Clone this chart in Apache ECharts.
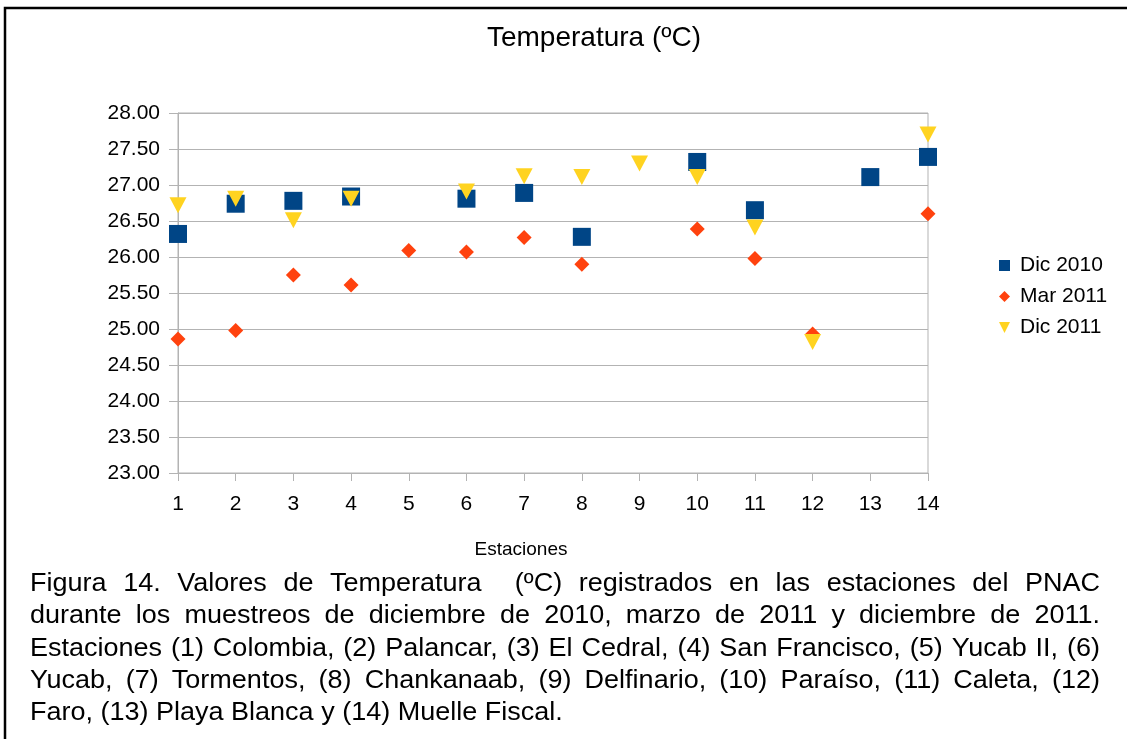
<!DOCTYPE html>
<html>
<head>
<meta charset="utf-8">
<script src="https://cdn.jsdelivr.net/npm/echarts@6/dist/echarts.min.js"></script>
<style>
  html, body { margin: 0; padding: 0; background: #ffffff; }
  #chart { width: 1127px; height: 739px; }
</style>
</head>
<body>
<div id="chart"></div>
<script>
// Stations 1..14 along the x axis
const stations = ['1', '2', '3', '4', '5', '6', '7', '8', '9', '10', '11', '12', '13', '14'];

// Temperature (ºC) per station for each sampling campaign; null = not sampled
const dic2010 = [26.32, 26.74, 26.78, 26.84, null, 26.81, 26.89, 26.28, null, 27.32, 26.65, null, 27.11, 27.39];
const mar2011 = [24.86, 24.98, 25.75, 25.61, 26.09, 26.07, 26.27, 25.90, null, 26.39, 25.98, 24.93, null, 26.60];
const dic2011 = [26.72, 26.81, 26.51, 26.81, null, 26.91, 27.12, 27.11, 27.30, 27.11, 26.41, 24.82, null, 27.70];

const seriesNames = ['Dic 2010', 'Mar 2011', 'Dic 2011'];

const chartTitle = 'Temperatura (ºC)';
const xAxisTitle = 'Estaciones';

const captionLines = [
  'Figura 14. Valores de Temperatura  (ºC) registrados en las estaciones del PNAC',
  'durante los muestreos de diciembre de 2010, marzo de 2011 y diciembre de 2011.',
  'Estaciones (1) Colombia, (2) Palancar, (3) El Cedral, (4) San Francisco, (5) Yucab II, (6)',
  'Yucab, (7) Tormentos, (8) Chankanaab, (9) Delfinario, (10) Paraíso, (11) Caleta, (12)',
  'Faro, (13) Playa Blanca y (14) Muelle Fiscal.'
];

const FONT = '"Liberation Sans", Arial, sans-serif';
const downTriangle = 'path://M0,0L10,0L5,10Z';

// Justified caption: each word placed as its own text element
function buildCaption() {
  const size = 25, sx = 1.08;
  const left = 30, right = 1100, top = 584, step = 32.4;
  const ctx = document.createElement('canvas').getContext('2d');
  ctx.font = size + 'px ' + FONT;
  const els = [];
  captionLines.forEach(function (line, i) {
    const y = top + i * step;
    const words = line.split(' ');
    const widths = words.map(function (w) { return ctx.measureText(w).width * sx; });
    const total = widths.reduce(function (a, b) { return a + b; }, 0);
    const last = i === captionLines.length - 1;
    const gap = last ? ctx.measureText(' ').width * sx : (right - left - total) / (words.length - 1);
    let x = left;
    words.forEach(function (w, k) {
      if (w.length) {
        els.push({
          type: 'text', x: x, y: y, scaleX: sx, silent: true,
          style: { text: w, fontSize: size, fontFamily: FONT, fill: '#000000',
                   textVerticalAlign: 'middle', verticalAlign: 'middle' }
        });
      }
      x += widths[k] + gap;
    });
  });
  return els;
}

const chart = echarts.init(document.getElementById('chart'), null, { renderer: 'canvas' });

const option = {
  backgroundColor: '#ffffff',
  animation: false,
  grid: {
    left: 178, right: 199, top: 113, bottom: 266,
    show: true, borderColor: '#b3b3b3', borderWidth: 1
  },
  legend: {
    orient: 'vertical',
    left: 994, top: 250,
    itemWidth: 11, itemHeight: 11, itemGap: 10,
    textStyle: { fontSize: 21, fontFamily: FONT, color: '#000000', lineHeight: 21, padding: [0, 0, 0, 5] },
    data: [
      { name: seriesNames[0], icon: 'rect' },
      { name: seriesNames[1], icon: 'diamond' },
      { name: seriesNames[2], icon: downTriangle }
    ]
  },
  xAxis: {
    type: 'category',
    data: stations,
    boundaryGap: false,
    axisLine: { show: true, lineStyle: { color: '#b3b3b3', width: 1 } },
    axisTick: { show: true, length: 8, alignWithLabel: true, lineStyle: { color: '#b3b3b3' } },
    splitLine: { show: false },
    axisLabel: { fontSize: 21, fontFamily: FONT, color: '#000000', margin: 21 }
  },
  yAxis: {
    type: 'value',
    min: 23, max: 28, interval: 0.5,
    axisLine: { show: true, lineStyle: { color: '#b3b3b3', width: 1 } },
    axisTick: { show: true, length: 9, lineStyle: { color: '#b3b3b3' } },
    splitLine: { show: true, lineStyle: { color: '#b3b3b3', width: 1 } },
    axisLabel: {
      fontSize: 21, fontFamily: FONT, color: '#000000', margin: 18,
      formatter: function (v) { return v.toFixed(2); }
    }
  },
  series: [
    { name: seriesNames[0], type: 'scatter', data: dic2010, symbol: 'rect', symbolSize: 18,
      itemStyle: { color: '#004586', opacity: 1 } },
    { name: seriesNames[1], type: 'scatter', data: mar2011, symbol: 'diamond', symbolSize: 15,
      itemStyle: { color: '#ff420e', opacity: 1 } },
    { name: seriesNames[2], type: 'scatter', data: dic2011, symbol: downTriangle, symbolSize: [17, 16],
      itemStyle: { color: '#ffd320', opacity: 1 } }
  ],
  graphic: [
    { type: 'polyline', silent: true,
      shape: { points: [[5, 739], [5, 8], [1127, 8]] },
      style: { stroke: '#000000', lineWidth: 2.5, fill: null } },
    { type: 'text', x: 594, y: 38, silent: true,
      style: { text: chartTitle, fontSize: 28, fontFamily: FONT, fill: '#000000',
               textAlign: 'center', align: 'center', textVerticalAlign: 'middle', verticalAlign: 'middle' } },
    { type: 'text', x: 521, y: 550, silent: true,
      style: { text: xAxisTitle, fontSize: 19, fontFamily: FONT, fill: '#000000',
               textAlign: 'center', align: 'center', textVerticalAlign: 'middle', verticalAlign: 'middle' } }
  ].concat(buildCaption())
};

chart.setOption(option);
</script>
</body>
</html>
